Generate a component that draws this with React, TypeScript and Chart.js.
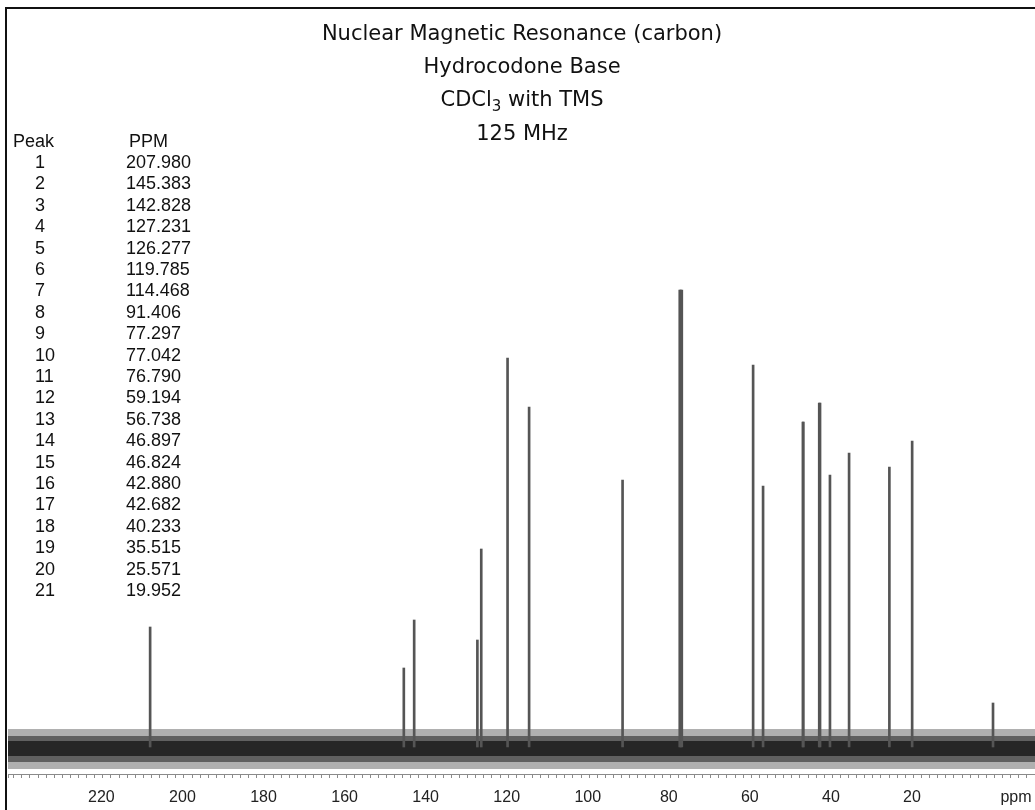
import React, { useEffect, useRef } from "react";
import { Chart, registerables } from "chart.js";

Chart.register(...registerables);

// ---- data ----
const peakNumbers = [1, 2, 3, 4, 5, 6, 7, 8, 9, 10, 11, 12, 13, 14, 15, 16, 17, 18, 19, 20, 21];
const peakPpm = [
  207.98, 145.383, 142.828, 127.231, 126.277, 119.785, 114.468, 91.406, 77.297, 77.042, 76.79,
  59.194, 56.738, 46.897, 46.824, 42.88, 42.682, 40.233, 35.515, 25.571, 19.952,
];
const peakPpmLabels = [
  "207.980", "145.383", "142.828", "127.231", "126.277", "119.785", "114.468", "91.406", "77.297",
  "77.042", "76.790", "59.194", "56.738", "46.897", "46.824", "42.880", "42.682", "40.233",
  "35.515", "25.571", "19.952",
];
// peak heights (arbitrary intensity units above the baseline)
const peakHeights = [
  120, 79, 127, 107, 198, 389, 340, 267, 457, 457, 457, 382, 261, 325, 325, 344, 344, 272, 294, 280, 306,
];
const tmsPpm = [0];
const tmsHeight = [44];

const xTickLabels = [220, 200, 180, 160, 140, 120, 100, 80, 60, 40, 20];
const xRangePpm = [243.05, -10.36];
const yRange = [-27, 687];

// baseline noise band envelopes (outer, middle, core)
const noiseUpper = [18, 11, 6];
const noiseLower = [-22, -15, -9];
const noiseColors = ["#b0b0b0", "#606060", "#262626"];

const titleLines: Array<Array<[string, boolean]>> = [
  [["Nuclear Magnetic Resonance (carbon)", false]],
  [["Hydrocodone Base", false]],
  [["CDCl", false], ["3", true], [" with TMS", false]],
  [["125 MHz", false]],
];
const tableHeader = ["Peak", "PPM"];

export default function App() {
  const canvasRef = useRef<HTMLCanvasElement | null>(null);

  useEffect(() => {
    const canvas = canvasRef.current;
    if (!canvas) return;

    const bandDatasets: any[] = [];
    noiseUpper.forEach((up, i) => {
      const order = noiseUpper.length - i + 1;
      bandDatasets.push({
        type: "line",
        data: [
          { x: xRangePpm[0], y: up },
          { x: xRangePpm[1], y: up },
        ],
        borderWidth: 0,
        pointRadius: 0,
        backgroundColor: noiseColors[i],
        fill: "+1",
        order,
      });
      bandDatasets.push({
        type: "line",
        data: [
          { x: xRangePpm[0], y: noiseLower[i] },
          { x: xRangePpm[1], y: noiseLower[i] },
        ],
        borderWidth: 0,
        pointRadius: 0,
        fill: false,
        order,
      });
    });

    const overlay = {
      id: "overlay",
      beforeDraw(chart: any) {
        const ctx = chart.ctx;
        ctx.save();
        ctx.fillStyle = "#ffffff";
        ctx.fillRect(0, 0, chart.width, chart.height);
        ctx.restore();
      },
      afterDraw(chart: any) {
        const ctx: CanvasRenderingContext2D = chart.ctx;
        ctx.save();
        // frame
        ctx.fillStyle = "#111";
        ctx.fillRect(5, 7, 2, chart.height - 7);
        ctx.fillRect(5, 7, chart.width - 5, 2);

        // title
        const cx = 522;
        const titleY = [35, 68, 101, 135];
        ctx.fillStyle = "#111";
        ctx.textBaseline = "middle";
        ctx.textAlign = "left";
        const bigFont = '21px "DejaVu Sans"';
        const subFont = '15px "DejaVu Sans"';
        titleLines.forEach((segs, li) => {
          let total = 0;
          segs.forEach(([t, sub]) => {
            ctx.font = sub ? subFont : bigFont;
            total += ctx.measureText(t).width;
          });
          let x = cx - total / 2;
          segs.forEach(([t, sub]) => {
            ctx.font = sub ? subFont : bigFont;
            ctx.fillText(t, x, titleY[li] + (sub ? 6 : 0));
            x += ctx.measureText(t).width;
          });
        });

        // peak table
        ctx.font = '18px "Liberation Sans"';
        const rowH = 21.4;
        const y0 = 141.6;
        ctx.fillText(tableHeader[0], 13, y0);
        ctx.fillText(tableHeader[1], 129, y0);
        peakNumbers.forEach((n, i) => {
          const y = y0 + (i + 1) * rowH;
          ctx.fillText(String(n), 35, y);
          ctx.fillText(peakPpmLabels[i], 126, y);
        });

        // x tick labels, placed through the x scale
        const xs = chart.scales.x;
        ctx.font = '16px "Liberation Sans"';
        ctx.textAlign = "center";
        ctx.fillStyle = "#222";
        xTickLabels.forEach((v) => {
          ctx.fillText(String(v), xs.getPixelForValue(v), 798);
        });
        // unit label
        ctx.fillText("ppm", 1016, 798);
        ctx.restore();
      },
    };

    const chart = new Chart(canvas, {
      type: "bar",
      data: {
        datasets: [
          ...bandDatasets,
          {
            type: "bar",
            data: peakPpm
              .map((p, i) => ({ x: p, y: peakHeights[i] }))
              .concat(tmsPpm.map((p, i) => ({ x: p, y: tmsHeight[i] }))),
            backgroundColor: "#555555",
            barThickness: 2,
            order: 0,
          } as any,
        ],
      },
      options: {
        responsive: false,
        animation: false,
        layout: { padding: { left: 8, right: 0, top: 60, bottom: 0 } },
        plugins: {
          legend: { display: false },
          tooltip: { enabled: false },
          title: { display: false },
        },
        scales: {
          x: {
            type: "linear",
            reverse: true,
            min: xRangePpm[1],
            max: xRangePpm[0],
            offset: false,
            bounds: "data",
            ticks: {
              stepSize: 2,
              autoSkip: false,
              maxRotation: 0,
              includeBounds: false,
              display: false,
            },
            grid: {
              display: true,
              drawOnChartArea: false,
              drawTicks: true,
              tickLength: 4,
              offset: false,
              color: "#8a8a8a",
            },
            border: { display: true, color: "#8a8a8a", width: 1 },
            afterFit: (s: any) => {
              s.height = 36;
            },
          } as any,
          y: {
            type: "linear",
            display: false,
            min: yRange[0],
            max: yRange[1],
          },
        },
      } as any,
      plugins: [overlay],
    });

    return () => chart.destroy();
  }, []);

  return (
    <div style={{ position: "absolute", left: 0, top: 0, width: 1035, height: 810 }}>
      <canvas ref={canvasRef} width={1035} height={810} />
    </div>
  );
}
